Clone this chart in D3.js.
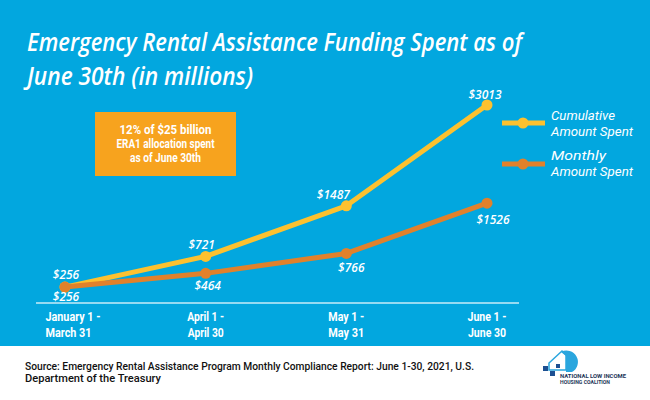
<!DOCTYPE html>
<html>
<head>
<meta charset="utf-8">
<script src="https://cdn.jsdelivr.net/npm/d3@7"></script>
<style>
  html, body { margin: 0; padding: 0; background: #ffffff; }
  svg { display: block; }
</style>
</head>
<body>
<svg id="chart" width="650" height="400"></svg>
<script>
// ---- data ----
const titleLines = ["Emergency Rental Assistance Funding Spent as of", "June 30th (in millions)"];
const categories = [["January 1 -", "March 31"], ["April 1 -", "April 30"], ["May 1 -", "May 31"], ["June 1 -", "June 30"]];
const cumulative = [256, 721, 1487, 3013];
const monthly = [256, 464, 766, 1526];
const seriesNames = [["Cumulative", "Amount Spent"], ["Monthly", "Amount Spent"]];
const calloutLines = ["12% of $25 billion", "ERA1 allocation spent", "as of June 30th"];
const sourceLines = ["Source: Emergency Rental Assistance Program Monthly Compliance Report: June 1-30, 2021, U.S.", "Department of the Treasury"];
const logoLines = ["NATIONAL LOW INCOME", "HOUSING COALITION"];

// ---- styles ----
const BLUE = "#02A7DF", YELLOW = "#FDC12F", ORANGE = "#E1812B", BOX = "#F7A31E";
const condensed = "'Liberation Sans Narrow', 'Roboto', sans-serif";
const italicFont = "'Open Sans', 'Noto Sans', sans-serif";
const compactFont = "'Roboto', 'Liberation Sans', sans-serif";

const svg = d3.select("#chart");
svg.append("rect").attr("x", 0).attr("y", 0).attr("width", 650).attr("height", 346).attr("fill", BLUE);

function fit(sel, w) {
  sel.attr("textLength", w).attr("lengthAdjust", "spacingAndGlyphs");
}

// multi-line text helper: one <text>, one <tspan> per line
function multi(parent, lines, xs, y0, lh, widths) {
  const t = parent.append("text");
  lines.forEach((l, j) => {
    const ts = t.append("tspan").text(l).attr("x", xs[j]).attr("y", y0 + j * lh);
    if (widths) ts.call(fit, widths[j]);
  });
  return t;
}

// title
multi(svg, titleLines, [27, 27], 51, 34, [495, 226])
  .attr("fill", "#fff").attr("font-family", italicFont).attr("font-style", "italic")
  .attr("font-weight", 600).attr("font-size", 25);

// scales
const x = d3.scalePoint().domain(d3.range(categories.length)).range([65, 487]);
const y = d3.scaleLinear().domain([0, 3013]).range([304, 105]);

// axis baseline
const xAxis = d3.axisBottom(x).tickSize(0).tickFormat("");
const axG = svg.append("g").attr("transform", "translate(0,303)").call(xAxis);
axG.select(".domain").remove();
axG.append("line").attr("x1", 36).attr("x2", 519).attr("stroke", "#C9EDF9").attr("stroke-width", 1.5);

// x labels
const labelDx = [8, 0, 0, 0];
const labW = [[55, 46], [37, 36], [36, 36], [39, 38]];
categories.forEach((c, i) => {
  const xs = c.map((l, j) => x(i) + labelDx[i] - labW[i][j] / 2 + (j === 1 && i === 0 ? -4.5 : 0));
  multi(svg, c, xs, 321, 16, labW[i])
    .attr("fill", "#fff").attr("font-family", condensed).attr("font-weight", 700)
    .attr("font-size", 13.5);
});

// callout box
svg.append("rect").attr("x", 95).attr("y", 112).attr("width", 141).attr("height", 64).attr("fill", BOX);
const boxW = [92, 98, 71];
multi(svg, calloutLines, boxW.map(w => 165.5 - w / 2), 133.5, 14, boxW)
  .attr("fill", "#fff").attr("font-family", condensed).attr("font-weight", 700)
  .attr("font-size", 13);

// lines
const line = d3.line().x((d, i) => x(i)).y(d => y(d));
function drawSeries(data, color) {
  svg.append("path").datum(data).attr("d", line).attr("fill", "none")
    .attr("stroke", color).attr("stroke-width", 5).attr("stroke-linejoin", "round");
  svg.selectAll(null).data(data).enter().append("circle")
    .attr("cx", (d, i) => x(i)).attr("cy", d => y(d)).attr("r", 5.5).attr("fill", color);
}
drawSeries(cumulative, YELLOW);
drawSeries(monthly, ORANGE);

// value labels
const fmt = d => "$" + d;
const cumOff = [[1, -12], [-4, -12], [-13, -11], [-2, -10]];
const monOff = [[1, 9.5], [2, 12], [5, 14], [6, 16]];
function valueLabels(data, off) {
  svg.selectAll(null).data(data).enter().append("text")
    .text(fmt)
    .attr("x", (d, i) => x(i) + off[i][0]).attr("y", (d, i) => y(d) + off[i][1])
    .attr("dy", "0.36em").attr("text-anchor", "middle")
    .attr("fill", "#fff").attr("font-family", italicFont).attr("font-style", "italic")
    .attr("font-weight", 600).attr("font-size", 12);
}
valueLabels(cumulative, cumOff);
valueLabels(monthly, monOff);

// legend
const legColors = [YELLOW, ORANGE];
const legY = [123, 164];
const legW = [[64, 82], [55, 82]];
seriesNames.forEach((s, i) => {
  svg.append("line").attr("x1", 502).attr("x2", 545).attr("y1", legY[i]).attr("y2", legY[i])
    .attr("stroke", legColors[i]).attr("stroke-width", 5);
  svg.append("circle").attr("cx", 523).attr("cy", legY[i]).attr("r", 5.5).attr("fill", legColors[i]);
  multi(svg, s, [551, 551], legY[i] - 3 + (i === 1 ? -1 : 0), 15.5, legW[i])
    .attr("fill", "#fff").attr("font-family", compactFont).attr("font-style", "italic")
    .attr("font-weight", 400).attr("font-size", 13);
});

// source
multi(svg, sourceLines, [25, 25], 369.5, 12, [449, 136])
  .attr("fill", "#111").attr("font-family", compactFont).attr("font-weight", 500)
  .attr("font-size", 10.2);

// logo
const logo = svg.append("g");
logo.append("path").attr("d", "M549,370 L549,363 L562,351 L566,355 L566,370 Z").attr("fill", "#fff").attr("stroke", "#2AA6DE").attr("stroke-width", 1.5);
logo.append("path").attr("d", "M561,352 A11,11 0 0 1 572,372 L566,372 L566,356 Z").attr("fill", "#2AA6DE");
logo.append("rect").attr("x", 543).attr("y", 366).attr("width", 5).attr("height", 5).attr("fill", "#1D4F91");
logo.append("rect").attr("x", 550).attr("y", 371).attr("width", 5).attr("height", 5).attr("fill", "#1D4F91");
logo.append("rect").attr("x", 556).attr("y", 364).attr("width", 4).attr("height", 4).attr("fill", "#1D4F91");
multi(logo, logoLines, [560, 560], 378, 6, [66, 50])
  .attr("fill", "#1D3557").attr("font-family", condensed).attr("font-weight", 700)
  .attr("font-size", 5);
</script>
</body>
</html>
